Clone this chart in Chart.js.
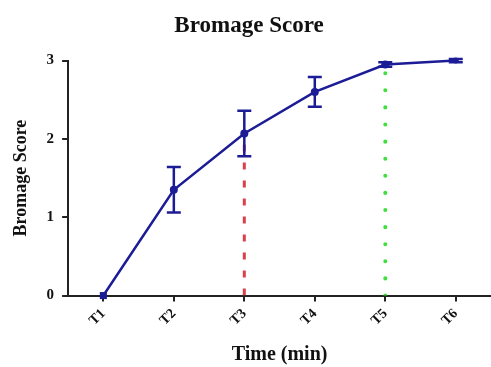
<!DOCTYPE html>
<html>
<head>
<meta charset="utf-8">
<script src="https://cdn.jsdelivr.net/npm/chart.js@4.4.1/dist/chart.umd.min.js"></script>
<style>
  html, body { margin: 0; padding: 0; background: #fff; }
  #wrap { width: 491px; height: 367px; }
</style>
</head>
<body>
<div id="wrap"><canvas id="bromageChart"></canvas></div>
<script>
// time points and mean bromage score with error (+/-)
var timeLabels = ["T1", "T2", "T3", "T4", "T5", "T6"];
var scoreMean = [0, 1.35, 2.07, 2.6, 2.95, 3.0];
var scoreError = [0, 0.29, 0.29, 0.19, 0.03, 0.02];
var yTicks = [0, 1, 2, 3];

// vertical drop lines at T3 and T5
var dropT3 = [{ x: "T3", y: 0 }, { x: "T3", y: scoreMean[2] }];
var dropT5 = [{ x: "T5", y: 0 }, { x: "T5", y: scoreMean[4] }];

var blue = "#1c1c96";
var serif = "'Liberation Serif', 'DejaVu Serif', serif";

// error bars with caps, drawn on top of the line
var errorBars = {
	id: "errorBars",
	afterDatasetsDraw: function(chart) {
		var ctx = chart.ctx;
		var xs = chart.scales.x;
		var ys = chart.scales.y;
		ctx.save();
		ctx.strokeStyle = blue;
		ctx.lineWidth = 2.5;
		for (var i = 0; i < scoreMean.length; i++) {
			if (!scoreError[i]) continue;
			var x = xs.getPixelForValue(i);
			var top = ys.getPixelForValue(scoreMean[i] + scoreError[i]);
			var bot = ys.getPixelForValue(scoreMean[i] - scoreError[i]);
			ctx.beginPath();
			ctx.moveTo(x, top); ctx.lineTo(x, bot);
			ctx.moveTo(x - 7, top); ctx.lineTo(x + 7, top);
			ctx.moveTo(x - 7, bot); ctx.lineTo(x + 7, bot);
			ctx.stroke();
		}
		ctx.restore();
	}
};

var ctx = document.getElementById("bromageChart");

var data = {
	labels: timeLabels,
	datasets: [
		{
			label: "Bromage Score",
			data: scoreMean,
			borderColor: blue,
			backgroundColor: blue,
			borderWidth: 2.5,
			pointStyle: ["rect", "circle", "circle", "circle", "circle", "circle"],
			pointRadius: [5, 4, 4, 4, 4, 3],
			pointBorderWidth: 0,
			lineTension: 0,
			fill: false,
			clip: false,
			order: 0
		},
		{
			label: "T3",
			data: dropT3,
			borderColor: "#d9404a",
			borderWidth: 3,
			borderDash: [7, 11],
			pointRadius: 0,
			fill: false,
			order: 1
		},
		{
			label: "T5",
			data: dropT5,
			borderColor: "#3ee03e",
			borderWidth: 4,
			borderDash: [0.1, 17],
			borderCapStyle: "round",
			pointRadius: 0,
			fill: false,
			order: 1
		}
	]
};

var options = {
	responsive: true,
	maintainAspectRatio: false,
	animation: false,
	layout: { autoPadding: false, padding: { left: 7, right: 0, top: 4, bottom: 0 } },
	plugins: {
		legend: { display: false },
		tooltip: { enabled: false },
		title: {
			display: true,
			text: "Bromage Score",
			color: "#111",
			font: { family: serif, size: 23, weight: "bold" },
			padding: { top: 8, bottom: 21 }
		}
	},
	scales: {
		x: {
			offset: true,
			// let the axis run to the right edge
			afterFit: function(scale) {
				scale.paddingRight = 0;
			},
			grid: { drawOnChartArea: false, drawTicks: true, tickLength: 6, color: "#222", lineWidth: 2 },
			border: { display: true, color: "#222", width: 2 },
			ticks: {
				color: "#111",
				minRotation: 45,
				maxRotation: 45,
				padding: 4,
				font: { family: serif, size: 14, weight: "bold" }
			},
			title: {
				display: true,
				text: "Time (min)",
				color: "#111",
				font: { family: serif, size: 20, weight: "bold" },
				padding: { top: 10, bottom: 0 }
			}
		},
		y: {
			min: 0,
			max: 3,
			afterBuildTicks: function(axis) {
				axis.ticks = yTicks.map(function(v) { return { value: v }; });
			},
			grid: { drawOnChartArea: false, drawTicks: true, tickLength: 6, color: "#222", lineWidth: 2 },
			border: { display: true, color: "#222", width: 2 },
			ticks: {
				color: "#111",
				padding: 8,
				font: { family: serif, size: 15, weight: "bold" }
			},
			title: {
				display: true,
				text: "Bromage Score",
				color: "#111",
				font: { family: serif, size: 18, weight: "bold" },
				padding: { bottom: 6 }
			}
		}
	}
};

var chart = new Chart(ctx, {
	type: "line",
	data: data,
	options: options,
	plugins: [errorBars]
});
</script>
</body>
</html>
